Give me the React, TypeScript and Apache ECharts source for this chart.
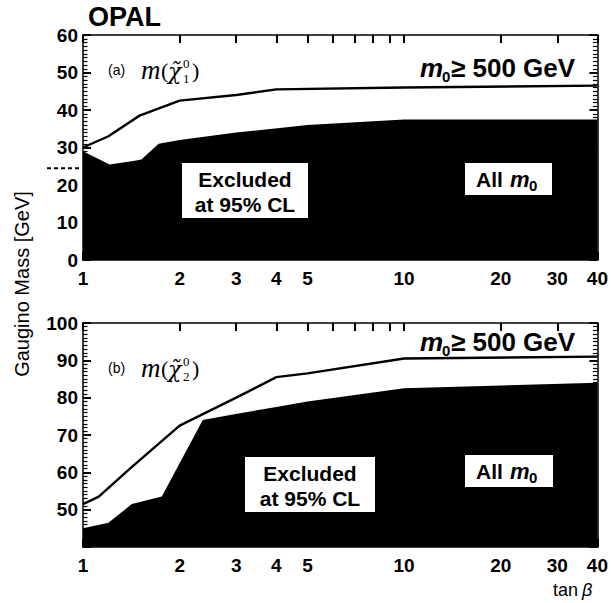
import React, { useEffect, useRef } from "react";
import * as echarts from "echarts";

// ---- data ----
const tickLabelValues = [1, 2, 3, 4, 5, 10, 20, 30, 40];
const tickMarkValues = [1, 2, 3, 4, 5, 6, 7, 8, 9, 10, 20, 30, 40];

// Panel (a): lightest neutralino m(chi1)
const aAllTan = [1, 1.21, 1.45, 1.52, 1.72, 2, 3, 5, 10, 40];
const aAllMass = [29, 25.5, 26.5, 26.8, 31, 32, 34, 36, 37.5, 37.5];
const aM0Tan = [1, 1.2, 1.5, 2, 3, 4, 10, 40];
const aM0Mass = [30, 33, 38.5, 42.5, 44, 45.5, 46, 46.5];

// Panel (b): next-to-lightest neutralino m(chi2)
const bAllTan = [1, 1.2, 1.42, 1.58, 1.76, 2.36, 2.93, 4, 5, 10, 40];
const bAllMass = [45, 46.5, 51.5, 52.5, 53.5, 74, 75.5, 77.5, 79, 82.5, 84];
const bM0Tan = [1, 1.12, 1.4, 2, 3, 4, 5, 10, 40];
const bM0Mass = [51.5, 53.5, 61, 72.5, 80, 85.5, 86.5, 90.5, 91];

const lepLimit = 24.5; // dashed marker on the left of panel (a)

const SANS = "'Liberation Sans', Arial, Helvetica, sans-serif";
const SERIF = "'DejaVu Serif', 'Liberation Serif', serif";
const XMAX = Math.log10(40);

const GRID_A = { left: 83, top: 35, width: 515, height: 225 };
const GRID_B = { left: 83, top: 323, width: 515, height: 224 };

const toXY = (t: number[], m: number[]) => t.map((v, i) => [Math.log10(v), m[i]]);

function xAxis(gi: number, pos: "bottom" | "top") {
  const main = pos === "bottom";
  return {
    type: "value",
    gridIndex: gi,
    position: pos,
    min: 0,
    max: XMAX,
    axisLine: { show: true, onZero: false, lineStyle: { color: "#000", width: 1.5 } },
    axisTick: {
      show: true,
      inside: true,
      length: 8,
      customValues: tickMarkValues.map((v) => Math.log10(v)),
      lineStyle: { color: "#000", width: 2 },
    },
    axisLabel: {
      show: true,
      customValues: tickLabelValues.map((v) => Math.log10(v)),
      formatter: (v: number) => (main ? String(Math.round(Math.pow(10, v))) : ""),
      color: "#000",
      fontFamily: SANS,
      fontWeight: "bold",
      fontSize: 19,
      margin: 9,
    },
    splitLine: { show: false },
  };
}

function yAxis(gi: number, pos: "left" | "right", min: number, max: number, showMin: boolean) {
  const main = pos === "left";
  return {
    type: "value",
    gridIndex: gi,
    position: pos,
    min,
    max,
    interval: 10,
    axisLine: { show: true, onZero: false, lineStyle: { color: "#000", width: 1.5 } },
    axisTick: { show: true, inside: true, length: 8, lineStyle: { color: "#000", width: 2 } },
    minorTick: { show: true, splitNumber: 10, length: 4.5, lineStyle: { color: "#000", width: 1.2 } },
    axisLabel: {
      show: true,
      showMinLabel: showMin,
      formatter: (v: number) => (main ? String(v) : ""),
      color: "#000",
      fontFamily: SANS,
      fontWeight: "bold",
      fontSize: 19,
      margin: 5,
    },
    splitLine: { show: false },
  };
}

const Z = 20;

function boxText(x: number, y: number, w: number, h: number, lines: string[], fs: number) {
  return {
    type: "group",
    z: Z,
    children: [
      { type: "rect", z: Z, shape: { x, y, width: w, height: h }, style: { fill: "#fff" } },
      {
        type: "text",
        z: Z + 1,
        x: x + w / 2,
        y: y + h / 2 + 1,
        style: {
          text: lines.join("\n"),
          fill: "#000",
          font: `bold ${fs}px ${SANS}`,
          align: "center",
          verticalAlign: "middle",
          lineHeight: fs + 4,
        },
      },
    ],
  };
}

function allM0Box(x: number, y: number, w: number, h: number) {
  return {
    type: "group",
    z: Z,
    children: [
      { type: "rect", z: Z, shape: { x, y, width: w, height: h }, style: { fill: "#fff" } },
      { type: "text", z: Z + 1, x: x + 11, y: y + h / 2, style: { text: "All", fill: "#000", font: `bold 21px ${SANS}`, verticalAlign: "middle" } },
      { type: "text", z: Z + 1, x: x + 45, y: y + h / 2, style: { text: "m", fill: "#000", font: `italic bold 22px ${SANS}`, verticalAlign: "middle" } },
      { type: "text", z: Z + 1, x: x + 64, y: y + h / 2 + 6, style: { text: "0", fill: "#000", font: `bold 15px ${SANS}`, verticalAlign: "middle" } },
    ],
  };
}

function m0Text(x: number, y: number) {
  return {
    type: "group",
    z: Z,
    children: [
      { type: "text", z: Z, x, y, style: { text: "m", fill: "#000", font: `italic bold 26px ${SANS}`, verticalAlign: "middle" } },
      { type: "text", z: Z, x: x + 22, y: y + 8, style: { text: "0", fill: "#000", font: `bold 15px ${SANS}`, verticalAlign: "middle" } },
      { type: "text", z: Z, x: x + 31, y, style: { text: "≥ 500 GeV", fill: "#000", font: `bold 26px ${SANS}`, verticalAlign: "middle" } },
    ],
  };
}

function chiLabel(x: number, y: number, tag: string, sub: string) {
  return {
    type: "group",
    z: Z,
    children: [
      { type: "text", z: Z, x, y, style: { text: `(${tag})`, fill: "#000", font: `14px ${SANS}`, verticalAlign: "middle" } },
      { type: "text", z: Z, x: x + 33, y, style: { text: "m", fill: "#000", font: `italic 27px 'Liberation Serif', serif`, verticalAlign: "middle" } },
      { type: "text", z: Z, x: x + 53, y, style: { text: "(", fill: "#000", font: `22px 'Liberation Serif', serif`, verticalAlign: "middle" } },
      { type: "text", z: Z, x: x + 60, y: y + 1, style: { text: "χ̃", fill: "#000", font: `italic 22px ${SERIF}`, verticalAlign: "middle" } },
      { type: "text", z: Z, x: x + 75, y: y - 7, style: { text: "0", fill: "#000", font: `13px 'Liberation Serif', serif`, verticalAlign: "middle" } },
      { type: "text", z: Z, x: x + 75, y: y + 8, style: { text: sub, fill: "#000", font: `13px 'Liberation Serif', serif`, verticalAlign: "middle" } },
      { type: "text", z: Z, x: x + 84, y, style: { text: ")", fill: "#000", font: `22px 'Liberation Serif', serif`, verticalAlign: "middle" } },
    ],
  };
}

export default function App() {
  const ref = useRef<HTMLDivElement>(null);
  useEffect(() => {
    if (!ref.current) return;
    const chart = echarts.init(ref.current, undefined, { renderer: "svg" });
    const area = (name: string, xi: number, t: number[], m: number[]) => ({
      name,
      type: "line",
      xAxisIndex: xi,
      yAxisIndex: xi,
      data: toXY(t, m),
      symbol: "none",
      lineStyle: { width: 0 },
      areaStyle: { color: "#000", opacity: 1, origin: "start" },
      z: 2,
    });
    const line = (name: string, xi: number, t: number[], m: number[]) => ({
      name,
      type: "line",
      xAxisIndex: xi,
      yAxisIndex: xi,
      data: toXY(t, m),
      symbol: "none",
      lineStyle: { color: "#000", width: 2.4 },
      z: 3,
    });
    // dashed marker height from the panel (a) y-scale (0..60 over the grid height)
    const yDash = GRID_A.top + GRID_A.height * (1 - lepLimit / 60);
    chart.setOption({
      animation: false,
      grid: [GRID_A, GRID_B],
      xAxis: [xAxis(0, "bottom"), xAxis(1, "bottom"), xAxis(0, "top"), xAxis(1, "top")],
      yAxis: [
        yAxis(0, "left", 0, 60, true),
        yAxis(1, "left", 40, 100, false),
        yAxis(0, "right", 0, 60, true),
        yAxis(1, "right", 40, 100, false),
      ],
      series: [
        area("All m0 (a)", 0, aAllTan, aAllMass),
        line("m0 ≥ 500 GeV (a)", 0, aM0Tan, aM0Mass),
        area("All m0 (b)", 1, bAllTan, bAllMass),
        line("m0 ≥ 500 GeV (b)", 1, bM0Tan, bM0Mass),
      ],
      graphic: [
        { type: "text", z: Z, x: 88, y: 17, style: { text: "OPAL", fill: "#000", font: `bold 27px ${SANS}`, verticalAlign: "middle" } },
        {
          type: "text",
          z: Z,
          x: 22,
          y: 284,
          rotation: Math.PI / 2,
          style: { text: "Gaugino Mass [GeV]", fill: "#000", font: `20px ${SANS}`, align: "center", verticalAlign: "middle" },
        },
        {
          type: "line",
          z: Z,
          shape: { x1: 47, y1: yDash, x2: 80, y2: yDash },
          style: { stroke: "#000", lineWidth: 2, lineDash: [4, 3] },
        },
        chiLabel(108, 70, "a", "1"),
        chiLabel(108, 368, "b", "2"),
        m0Text(420, 68),
        m0Text(420, 342),
        boxText(182, 163, 126, 55, ["Excluded", "at 95% CL"], 21),
        boxText(245, 457, 130, 55, ["Excluded", "at 95% CL"], 21),
        allM0Box(465, 163, 87, 32),
        allM0Box(465, 455, 88, 32),
        { type: "text", z: Z, x: 553, y: 590, style: { text: "tan", fill: "#000", font: `18px ${SANS}`, verticalAlign: "middle" } },
        { type: "text", z: Z, x: 582, y: 590, style: { text: "β", fill: "#000", font: `italic 18px ${SANS}`, verticalAlign: "middle" } },
      ],
    });
    return () => chart.dispose();
  }, []);
  return <div ref={ref} style={{ width: 611, height: 603, position: "absolute", left: 0, top: 0 }} />;
}
